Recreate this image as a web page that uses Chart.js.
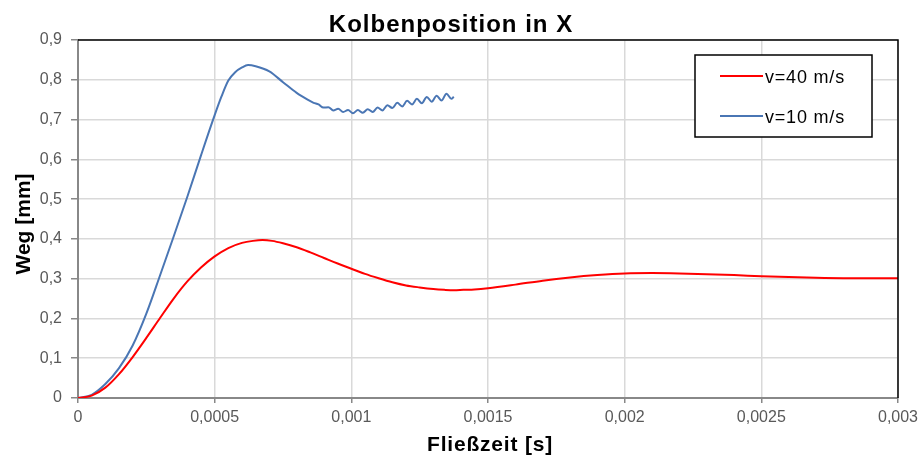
<!DOCTYPE html>
<html>
<head>
<meta charset="utf-8">
<script src="https://cdn.jsdelivr.net/npm/chart.js@4"></script>
<style>
  html, body { margin: 0; padding: 0; background: #fff; }
  #wrap { width: 920px; height: 457px; }
</style>
</head>
<body>
<div id="wrap"><canvas id="kolben"></canvas></div>
<script>
// Zeit in ms, Weg in mm
const seriesLabels = ['v=40 m/s', 'v=10 m/s'];

const t40 = [0, 0.05, 0.1, 0.15, 0.2, 0.25, 0.3, 0.35, 0.4, 0.45, 0.5, 0.55, 0.6, 0.64, 0.675, 0.71,
  0.75, 0.8, 0.85, 0.9, 0.95, 1.0, 1.05, 1.1, 1.15, 1.2, 1.25, 1.3, 1.34, 1.375, 1.41, 1.45, 1.5,
  1.6, 1.7, 1.8, 1.9, 2.0, 2.1, 2.2, 2.3, 2.4, 2.5, 2.6, 2.7, 2.8, 2.9, 3.0];
const weg40 = [0, 0.006, 0.026, 0.06, 0.103, 0.151, 0.201, 0.25, 0.293, 0.328, 0.356, 0.377, 0.39, 0.395, 0.397, 0.395,
  0.389, 0.379, 0.366, 0.352, 0.338, 0.325, 0.312, 0.301, 0.291, 0.283, 0.278, 0.274, 0.272, 0.271, 0.272, 0.273, 0.276,
  0.285, 0.295, 0.303, 0.309, 0.313, 0.314, 0.313, 0.311, 0.309, 0.306, 0.304, 0.302, 0.301, 0.301, 0.301];

const t10 = [0, 0.05, 0.1, 0.15, 0.2, 0.25, 0.3, 0.35, 0.4, 0.45, 0.5, 0.525, 0.55, 0.575, 0.6, 0.622,
  0.65, 0.7, 0.75, 0.8, 0.84, 0.862,
  0.880, 0.898, 0.916, 0.934, 0.952, 0.970, 0.988, 1.006, 1.024, 1.042, 1.060, 1.078, 1.096, 1.114,
  1.132, 1.150, 1.168, 1.186, 1.204, 1.222, 1.240, 1.258, 1.276, 1.294, 1.312, 1.330, 1.348, 1.366, 1.375];
const weg10 = [0, 0.008, 0.035, 0.075, 0.132, 0.212, 0.308, 0.406, 0.506, 0.61, 0.711, 0.758, 0.798, 0.819, 0.831, 0.837,
  0.834, 0.821, 0.794, 0.767, 0.75, 0.742,
  0.738, 0.730, 0.731, 0.723, 0.727, 0.719, 0.724, 0.716, 0.724, 0.717, 0.726, 0.719, 0.730, 0.723,
  0.736, 0.729, 0.742, 0.733, 0.747, 0.738, 0.752, 0.741, 0.757, 0.745, 0.760, 0.748, 0.765, 0.752, 0.757];

const xTicks = [0, 0.0005, 0.001, 0.0015, 0.002, 0.0025, 0.003];
const yTicks = [0, 0.1, 0.2, 0.3, 0.4, 0.5, 0.6, 0.7, 0.8, 0.9];

const seriesColors = ['#ff0000', '#4a76b4'];

function toPoints(ts, ws) {
  return ts.map((t, i) => ({ x: t / 1000, y: ws[i] }));
}

function komma(v) {
  return String(+v.toFixed(6)).replace('.', ',');
}

const fontFam = '"Liberation Sans", Arial, sans-serif';

// Titel, Achsentitel, Rahmen oben/rechts und Legendenkasten
const excelLook = {
  id: 'excelLook',
  afterDraw(chart) {
    const ctx = chart.ctx;
    const a = chart.chartArea;
    ctx.save();
    ctx.strokeStyle = '#000';
    ctx.lineWidth = 1.5;
    ctx.beginPath();
    ctx.moveTo(a.left, a.top);
    ctx.lineTo(a.right, a.top);
    ctx.lineTo(a.right, a.bottom);
    ctx.stroke();

    ctx.fillStyle = '#000';
    ctx.textAlign = 'center';
    ctx.textBaseline = 'alphabetic';
    ctx.letterSpacing = '1px';
    ctx.font = 'bold 24px ' + fontFam;
    ctx.fillText('Kolbenposition in X', 451, 32);

    ctx.letterSpacing = '0.8px';
    ctx.font = 'bold 21px ' + fontFam;
    ctx.fillText('Fließzeit [s]', 490, 451);

    ctx.save();
    ctx.translate(30, 224);
    ctx.rotate(-Math.PI / 2);
    ctx.letterSpacing = '0px';
    ctx.fillText('Weg [mm]', 0, 0);
    ctx.restore();

    // Legende
    const bx = 695, by = 55, bw = 177, bh = 82;
    ctx.fillStyle = '#fff';
    ctx.fillRect(bx, by, bw, bh);
    ctx.lineWidth = 1.5;
    ctx.strokeStyle = '#000';
    ctx.strokeRect(bx, by, bw, bh);
    ctx.font = '18px ' + fontFam;
    ctx.letterSpacing = '0.8px';
    ctx.textAlign = 'left';
    chart.data.datasets.forEach((ds, i) => {
      const yy = by + 21 + i * 40;
      ctx.strokeStyle = ds.borderColor;
      ctx.lineWidth = 2;
      ctx.beginPath();
      ctx.moveTo(bx + 25, yy);
      ctx.lineTo(bx + 68, yy);
      ctx.stroke();
      ctx.fillStyle = '#000';
      ctx.fillText(ds.label, bx + 70, yy + 7);
    });
    ctx.restore();
  }
};

new Chart(document.getElementById('kolben'), {
  type: 'line',
  data: {
    datasets: [
      {
        label: seriesLabels[0],
        data: toPoints(t40, weg40),
        borderColor: seriesColors[0],
        borderWidth: 2,
        pointRadius: 0,
        cubicInterpolationMode: 'monotone'
      },
      {
        label: seriesLabels[1],
        data: toPoints(t10, weg10),
        borderColor: seriesColors[1],
        borderWidth: 2,
        pointRadius: 0,
        cubicInterpolationMode: 'monotone'
      }
    ]
  },
  options: {
    responsive: true,
    maintainAspectRatio: false,
    animation: false,
    layout: { padding: { left: 0, right: 22, top: 40, bottom: 0 } },
    plugins: {
      legend: { display: false },
      tooltip: { enabled: false }
    },
    scales: {
      x: {
        type: 'linear',
        min: 0,
        max: 0.003,
        afterBuildTicks: s => { s.ticks = xTicks.map(v => ({ value: v })); },
        afterFit: s => { s.height = 59; s.paddingLeft = 0; s.paddingRight = 0; },
        ticks: {
          callback: v => komma(v),
          color: '#595959',
          font: { family: fontFam, size: 16 },
          padding: 5,
          maxRotation: 0
        },
        grid: { color: '#d9d9d9', lineWidth: 1.5, tickLength: 5, tickColor: '#888' },
        border: { color: '#888', width: 2 }
      },
      y: {
        min: 0,
        max: 0.9,
        afterBuildTicks: s => { s.ticks = yTicks.map(v => ({ value: v })); },
        afterFit: s => { s.width = 78; s.paddingTop = 0; s.paddingBottom = 0; },
        ticks: {
          callback: v => komma(v),
          color: '#595959',
          font: { family: fontFam, size: 16 },
          padding: 9
        },
        grid: { color: '#d9d9d9', lineWidth: 1.5, tickLength: 7, tickColor: '#888' },
        border: { color: '#888', width: 2 }
      }
    }
  },
  plugins: [excelLook]
});
</script>
</body>
</html>
